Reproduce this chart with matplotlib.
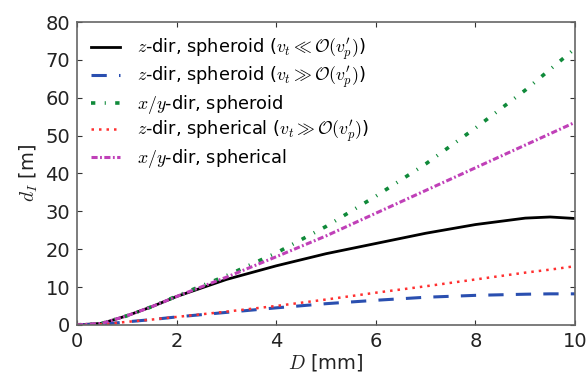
import matplotlib
matplotlib.use("Agg")
import matplotlib.pyplot as plt

plt.rcParams['mathtext.fontset'] = 'cm'
plt.rcParams['font.family'] = 'DejaVu Sans'

# diametro D [mm]
D = [0, 0.5, 1, 1.5, 2, 3, 4, 5, 6, 7, 8, 9, 9.5, 10]

z_spheroid_low = [0, 0.4, 2.4, 4.8, 7.5, 12.0, 15.6, 18.8, 21.5, 24.2, 26.5, 28.2, 28.5, 28.1]
z_spheroid_high = [0, 0.15, 0.8, 1.4, 2.1, 3.3, 4.5, 5.6, 6.5, 7.3, 7.8, 8.1, 8.2, 8.2]
xy_spheroid = [0, 0.4, 2.4, 4.8, 7.6, 13.0, 19.0, 26.0, 34.0, 42.5, 52.0, 62.0, 67.5, 73.0]
z_spherical = [0, 0.15, 0.8, 1.4, 2.1, 3.5, 5.0, 6.7, 8.5, 10.2, 12.0, 13.8, 14.6, 15.5]
xy_spherical = [0, 0.4, 2.4, 4.8, 7.5, 12.6, 18.0, 23.5, 29.5, 35.5, 41.5, 47.5, 50.5, 53.5]

fig = plt.figure(figsize=(5.88, 3.73), dpi=100)
ax = fig.add_axes([0.131, 0.129, 0.847, 0.812])

ax.plot(D, z_spheroid_low, color='black', lw=2, ls='-',
        label=r'$z$-dir, spheroid ($v_t \ll \mathcal{O}(v_p^\prime)$)')
ax.plot(D, z_spheroid_high, color='#2a4fb0', lw=2.2, ls=(0, (5, 4)),
        label=r'$z$-dir, spheroid ($v_t \gg \mathcal{O}(v_p^\prime)$)')
ax.plot(D, xy_spheroid, color='#108a3a', lw=2.6, ls=(0, (1.2, 2.6, 0.3, 2.6)),
        label=r'$x/y$-dir, spheroid')
ax.plot(D, z_spherical, color='#ff3030', lw=1.8, ls=(0, (1, 2)),
        label=r'$z$-dir, spherical ($v_t \gg \mathcal{O}(v_p^\prime)$)')
ax.plot(D, xy_spherical, color='#c040b8', lw=2.2, ls=(0, (2, 0.8, 0.6, 0.8)),
        label=r'$x/y$-dir, spherical')

ax.set_xlim(0, 10)
ax.set_ylim(0, 80)
ax.set_xticks([0, 2, 4, 6, 8, 10])
ax.set_yticks(range(0, 81, 10))
ax.tick_params(direction='in', top=True, right=True, labelsize=14, colors='#333333', pad=5)
ax.tick_params(labelcolor='#222222')
for s in ax.spines.values():
    s.set_color('#666666')
    s.set_linewidth(1.2)

ax.set_xlabel(r'$D$ [mm]', fontsize=14, labelpad=1, color='#222222')
ax.set_ylabel(r'$d_I$ [m]', fontsize=14, labelpad=4, color='#222222')

ax.legend(loc='upper left', frameon=False, fontsize=12.8, handlelength=1.6,
          handletextpad=1.0, labelspacing=0.12, borderaxespad=0.3, borderpad=0.5)

fig.savefig('out.png', dpi=100)
